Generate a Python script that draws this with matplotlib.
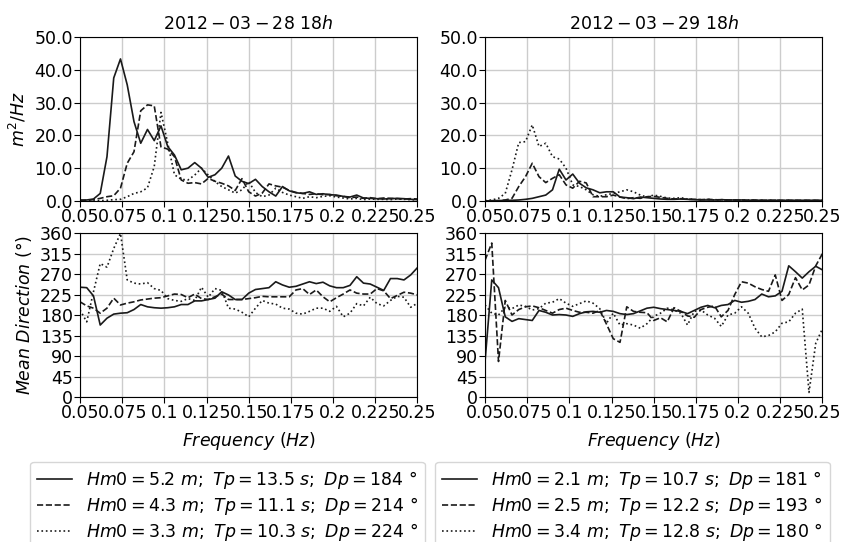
import numpy as np
import matplotlib
matplotlib.use("Agg")
import matplotlib.pyplot as plt

# spectral frequencies (Hz)
freq = np.arange(0.05, 0.2501, 0.004)

# energy spectra, m^2/Hz
spec_28_a = [0.3, 0.3, 0.6, 2.3, 13.5, 37.5, 43.3, 35.4, 24.2, 17.6, 21.8, 18.4, 22.9, 16.6, 14.0, 9.5,
             10.0, 11.7, 10.0, 7.2, 8.0, 10.0, 13.7, 7.6, 6.0, 5.3, 6.6, 4.4, 2.8, 1.5, 4.4, 3.1, 2.5,
             2.3, 2.8, 2.0, 2.2, 1.9, 1.8, 1.4, 1.2, 1.8, 0.9, 0.8, 0.7, 0.6, 0.7, 0.8, 0.7, 0.5, 0.4]
spec_28_b = [0.1, 0.2, 0.4, 0.8, 1.3, 1.6, 3.9, 11.5, 15.0, 27.5, 29.3, 29.0, 16.5, 15.8, 13.5, 6.4,
             5.4, 5.6, 5.2, 6.9, 6.0, 5.4, 4.6, 3.2, 6.8, 2.8, 1.5, 2.4, 5.2, 4.6, 4.2, 3.2, 2.6,
             2.3, 2.0, 2.2, 1.9, 2.0, 1.6, 1.4, 1.0, 1.2, 0.8, 1.0, 0.7, 0.9, 0.8, 0.7, 0.6, 0.7, 0.6]
spec_28_c = [0.0, 0.0, 0.0, 0.1, 0.2, 0.4, 0.5, 1.3, 2.3, 2.8, 4.0, 10.5, 27.0, 17.6, 8.0, 6.6,
             6.4, 7.9, 10.0, 7.9, 5.9, 4.4, 3.4, 2.4, 3.4, 5.9, 2.6, 1.3, 1.8, 3.9, 2.6, 1.8, 1.3,
             0.8, 1.3, 1.0, 1.4, 1.6, 1.2, 0.9, 0.6, 0.8, 0.4, 0.6, 0.5, 0.5, 0.4, 0.6, 0.5, 0.4, 0.3]

spec_29_a = [0.0, 0.1, 0.1, 0.2, 0.2, 0.3, 0.5, 0.8, 1.3, 1.8, 3.4, 9.7, 6.4, 8.2, 5.4, 4.0,
             3.4, 2.5, 2.8, 2.8, 1.2, 1.0, 0.7, 1.2, 1.0, 0.8, 0.6, 0.5, 0.5, 0.6, 0.5, 0.4, 0.3,
             0.3, 0.3, 0.4, 0.3, 0.3, 0.3, 0.2, 0.2, 0.2, 0.2, 0.2, 0.2, 0.2, 0.2, 0.2, 0.2, 0.2, 0.2]
spec_29_b = [0.0, 0.0, 0.1, 0.3, 0.8, 4.4, 7.4, 11.5, 7.4, 5.6, 6.9, 8.0, 4.9, 3.9, 6.0, 5.5,
             1.3, 1.3, 1.3, 1.8, 1.2, 0.7, 1.0, 0.8, 1.3, 1.4, 1.1, 0.8, 0.6, 0.7, 0.5, 0.5, 0.4,
             0.5, 0.4, 0.3, 0.3, 0.3, 0.3, 0.2, 0.3, 0.2, 0.2, 0.2, 0.2, 0.2, 0.2, 0.2, 0.2, 0.2, 0.2]
spec_29_c = [0.1, 0.3, 0.8, 2.3, 9.5, 17.8, 18.1, 23.2, 16.6, 17.6, 13.5, 12.8, 10.0, 4.9, 4.4, 3.4,
             1.9, 1.4, 1.9, 2.3, 2.8, 3.4, 2.8, 1.8, 1.2, 1.8, 1.4, 0.9, 0.8, 1.0, 0.6, 0.5, 0.4,
             0.5, 0.3, 0.4, 0.3, 0.3, 0.2, 0.3, 0.2, 0.2, 0.2, 0.2, 0.1, 0.2, 0.1, 0.1, 0.1, 0.1, 0.1]

# mean direction, degrees
dir_28_a = [241, 240, 222, 158, 173, 182, 184, 185, 192, 203, 198, 196, 195, 196, 198, 203,
            203, 211, 211, 214, 217, 231, 224, 214, 214, 228, 236, 238, 240, 253, 246, 241, 243,
            248, 253, 249, 252, 244, 240, 240, 245, 264, 250, 248, 241, 234, 260, 260, 257, 268, 284]
dir_28_b = [209, 200, 195, 184, 195, 217, 202, 206, 209, 213, 215, 217, 218, 222, 226, 225,
            218, 226, 216, 214, 220, 226, 214, 214, 214, 216, 218, 221, 220, 220, 220, 220, 235,
            238, 225, 235, 220, 209, 218, 226, 235, 228, 226, 226, 238, 233, 216, 223, 230, 228, 224]
dir_28_c = [191, 165, 231, 293, 285, 326, 359, 257, 250, 248, 251, 238, 234, 216, 212, 210,
            216, 212, 241, 219, 238, 234, 195, 193, 186, 176, 195, 212, 206, 204, 195, 193, 184,
            182, 188, 195, 195, 188, 199, 176, 184, 205, 200, 219, 205, 200, 212, 221, 219, 197, 206]

dir_29_a = [77, 257, 240, 176, 166, 172, 170, 168, 190, 186, 180, 181, 180, 177, 183, 187,
            188, 186, 190, 188, 183, 181, 183, 189, 195, 197, 194, 192, 190, 188, 183, 190, 197,
            201, 196, 201, 203, 212, 208, 210, 214, 226, 220, 222, 232, 288, 275, 261, 275, 287, 279]
dir_29_b = [300, 338, 78, 212, 180, 192, 198, 200, 196, 190, 184, 192, 195, 190, 186, 186,
            184, 190, 160, 128, 120, 198, 188, 186, 185, 168, 174, 165, 196, 188, 178, 175, 192,
            197, 200, 176, 190, 225, 253, 250, 242, 236, 232, 268, 212, 225, 262, 235, 246, 288, 315]
dir_29_c = [202, 184, 180, 197, 194, 202, 199, 191, 194, 206, 208, 216, 206, 199, 205, 211,
            206, 194, 162, 184, 158, 161, 158, 151, 161, 177, 184, 195, 191, 184, 158, 188, 191,
            180, 173, 155, 180, 184, 198, 184, 151, 132, 135, 143, 162, 165, 184, 193, 10, 118, 150]

titles = [r'$2012-03-28\ 18h$', r'$2012-03-29\ 18h$']
labels_28 = [r'$Hm0 = 5.2\ m;\ Tp = 13.5\ s;\ Dp = 184\ °$',
             r'$Hm0 = 4.3\ m;\ Tp = 11.1\ s;\ Dp = 214\ °$',
             r'$Hm0 = 3.3\ m;\ Tp = 10.3\ s;\ Dp = 224\ °$']
labels_29 = [r'$Hm0 = 2.1\ m;\ Tp = 10.7\ s;\ Dp = 181\ °$',
             r'$Hm0 = 2.5\ m;\ Tp = 12.2\ s;\ Dp = 193\ °$',
             r'$Hm0 = 3.4\ m;\ Tp = 12.8\ s;\ Dp = 180\ °$']

xticks = [0.05, 0.075, 0.1, 0.125, 0.15, 0.175, 0.2, 0.225, 0.25]
xticklabels = ['0.05', '0.075', '0.1', '0.125', '0.15', '0.175', '0.2', '0.225', '0.25']
styles = ['-', '--', ':']

plt.rcParams['font.size'] = 12.5
plt.rcParams['mathtext.fontset'] = 'dejavusans'

fig = plt.figure(figsize=(8.41, 5.42), dpi=100)
lefts = [0.0951, 0.5767]
w = 0.4013
h = 0.3026
columns = [
    (titles[0], [spec_28_a, spec_28_b, spec_28_c], [dir_28_a, dir_28_b, dir_28_c], labels_28),
    (titles[1], [spec_29_a, spec_29_b, spec_29_c], [dir_29_a, dir_29_b, dir_29_c], labels_29),
]
legend_x = [0.2705, 0.752]

for i, (title, specs, dirs, labels) in enumerate(columns):
    ax1 = fig.add_axes([lefts[i], 0.6292, w, h])
    ax2 = fig.add_axes([lefts[i], 0.2675, w, h])

    for s, ls in zip(specs, styles):
        ax1.plot(freq, s, color='#1a1a1a', linestyle=ls, linewidth=1.2)
    lines = []
    for d, ls, lab in zip(dirs, styles, labels):
        ln, = ax2.plot(freq, d, color='#1a1a1a', linestyle=ls, linewidth=1.2, label=lab)
        lines.append(ln)

    ax1.set_title(title, fontsize=12.5, pad=6)
    ax1.set_ylim(0, 50)
    ax1.set_yticks([0, 10, 20, 30, 40, 50])
    ax1.set_yticklabels(['%.1f' % v for v in [0, 10, 20, 30, 40, 50]])
    ax2.set_ylim(0, 360)
    ax2.set_yticks(range(0, 361, 45))

    for ax in (ax1, ax2):
        ax.set_xlim(0.05, 0.25)
        ax.set_xticks(xticks)
        ax.set_xticklabels(xticklabels)
        ax.grid(True, color='#cccccc', linewidth=1)
        ax.tick_params(length=4, pad=1)

    ax2.set_xlabel(r'$Frequency\ (Hz)$', labelpad=6)
    if i == 0:
        ax1.set_ylabel(r'$m^2/Hz$')
        ax2.set_ylabel(r'$Mean\ Direction\ (°)$')

    ax2.legend(handles=lines, loc='upper center', bbox_to_anchor=(legend_x[i], 0.1476),
               bbox_transform=fig.transFigure, borderaxespad=0, fontsize=12.5,
               labelspacing=0.24, handlelength=2.0, borderpad=0.4)

fig.savefig('out.png', dpi=100)
